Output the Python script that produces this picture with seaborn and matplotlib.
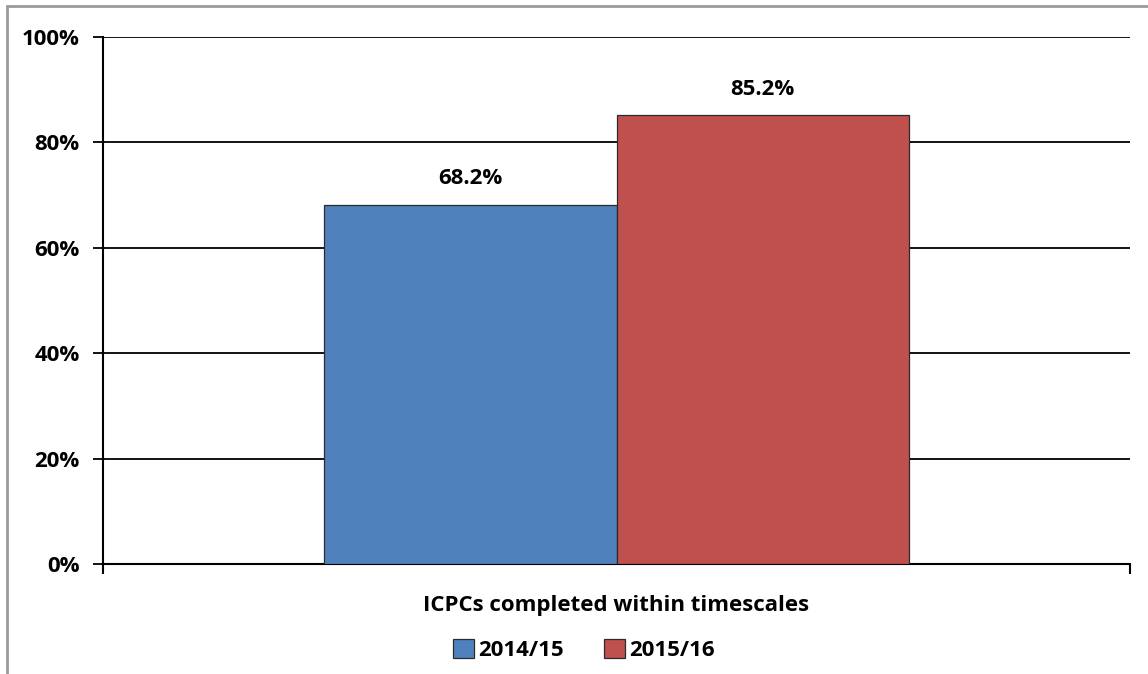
import matplotlib
matplotlib.use("Agg")
import matplotlib.pyplot as plt
from matplotlib.lines import Line2D
from matplotlib.patches import Patch
import seaborn as sns
import pandas as pd

categories = ["ICPCs completed within timescales"]
periods = ["2014/15", "2015/16"]
values = [68.2, 85.2]
colors = ["#4F81BD", "#C0504D"]
y_ticks = [0, 20, 40, 60, 80, 100]
y_tick_labels = ["0%", "20%", "40%", "60%", "80%", "100%"]

df = pd.DataFrame({
    "category": categories * len(periods),
    "period": periods,
    "value": values,
})

sns.set_theme(style="white")
plt.rcParams["font.family"] = ["Open Sans", "DejaVu Sans"]
FS = 16

W, H = 1148, 674
fig = plt.figure(figsize=(W / 100, H / 100), dpi=100)
ax = fig.add_axes([103 / W, (H - 564) / H, (1130 - 103) / W, (564 - 37) / H])

sns.barplot(data=df, x="category", y="value", hue="period", palette=colors,
            saturation=1, width=0.57, edgecolor="#2b2b2b", linewidth=0.9,
            legend=False, ax=ax, zorder=3)

ax.set_xlim(-0.5, 0.5)
ax.set_ylim(0, 100)
ax.set_yticks(y_ticks)
ax.set_yticklabels(y_tick_labels, fontsize=FS, fontweight="bold", color="black")
# horizontal gridlines spanning the plot width
for t in y_ticks[1:]:
    ax.axhline(t, color="black", linewidth=1.3, zorder=1)
ax.tick_params(axis="y", direction="out", length=7, width=1.3, color="black",
               left=True, pad=10)

# category boundary tick marks on the x axis
ax.set_xticks([-0.5, 0.5])
ax.set_xticklabels(["", ""])
ax.tick_params(axis="x", direction="out", length=7, width=1.5, color="black", bottom=True)
ax.set_xlabel("")
ax.set_ylabel("")

for side in ["top", "right"]:
    ax.spines[side].set_visible(False)
for side in ["left", "bottom"]:
    ax.spines[side].set_color("black")
    ax.spines[side].set_linewidth(1.5)

for container in ax.containers:
    ax.bar_label(container, labels=[f"{v:.1f}%" for v in container.datavalues],
                 padding=11, fontsize=FS, fontweight="bold", color="black")

fig.text(616 / W, 1 - 606 / H, categories[0], ha="center", va="center",
         fontsize=FS, fontweight="bold", color="black")

handles = [Patch(facecolor=c, edgecolor="#2b2b2b", linewidth=0.9) for c in colors]
fig.legend(handles, periods, loc="center", bbox_to_anchor=(584 / W, 1 - 650 / H),
           ncol=2, frameon=False, handlelength=0.95, handleheight=0.95,
           handletextpad=0.2, columnspacing=1.8, labelcolor="black",
           prop={"size": FS, "weight": "bold"})

# outer chart border (left and top edges)
fig.add_artist(Line2D([7 / W, 7 / W], [0, 1 - 6 / H], transform=fig.transFigure,
                      color="#9a9a9a", linewidth=2))
fig.add_artist(Line2D([7 / W, 1], [1 - 6 / H, 1 - 6 / H], transform=fig.transFigure,
                      color="#9a9a9a", linewidth=2))

fig.savefig("out.png", dpi=100)
